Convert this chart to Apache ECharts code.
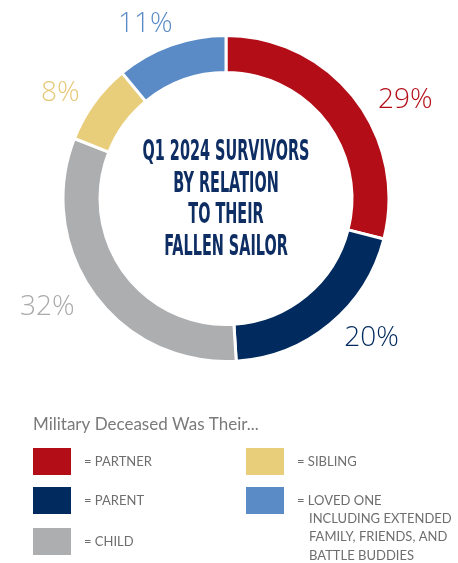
<!DOCTYPE html>
<html><head><meta charset="utf-8">
<script src="https://cdn.jsdelivr.net/npm/echarts@6/dist/echarts.min.js"></script>
<style>html,body{margin:0;padding:0;background:#fff}#c{width:458px;height:563px}</style>
</head><body><div id="c"></div>
<script>
const categories = ['Partner', 'Parent', 'Child', 'Sibling', 'Loved One'];
const values = [29, 20, 32, 8, 11];
const sliceColors = ['#b30e18', '#012a5e', '#adaeb0', '#e8cd7a', '#5b8bc7'];
const labelColors = ['#b30e18', '#012a5e', '#a9aaac', '#e6c978', '#5b8bc7'];
const titleLines = ['Q1 2024 SURVIVORS', 'BY RELATION', 'TO THEIR', 'FALLEN SAILOR'];
const legendHeading = 'Military Deceased Was Their...';
const legendLabels = ['= PARTNER', '= PARENT', '= CHILD', '= SIBLING', '= LOVED ONE'];
const legendExtra = ['INCLUDING EXTENDED', 'FAMILY, FRIENDS, AND', 'BATTLE BUDDIES'];
const labelNudge = [[4, 12], [-2, 0], [0, 2], [5, 1], [13, -4]];

const titleFont = 'bold 28px "DejaVu Sans"';
const ctx = document.createElement('canvas').getContext('2d');
ctx.font = titleFont;
const titleScale = 167 / ctx.measureText(titleLines[0]).width;

const chart = echarts.init(document.getElementById('c'));
const graphics = [];
titleLines.forEach((t, i) => {
  graphics.push({
    type: 'text', x: 226, y: 153 + i * 31.6, scaleX: titleScale, originX: 0,
    style: { text: t, fill: '#0d2d63', font: titleFont, align: 'center', verticalAlign: 'middle' }
  });
});
graphics.push({ type: 'text', x: 33, y: 425, style: { text: legendHeading, fill: '#7a7a7a', font: '17px Lato', verticalAlign: 'middle' } });
const colX = [33, 246], rowY = [448, 487, 528];
categories.forEach((c, i) => {
  const col = i < 3 ? 0 : 1, row = i < 3 ? i : i - 3;
  const x = colX[col], y = rowY[row];
  graphics.push({ type: 'rect', shape: { x: x, y: y, width: 38, height: 27 }, style: { fill: sliceColors[i] } });
  graphics.push({ type: 'text', x: x + 51, y: y + 13.5, style: { text: legendLabels[i], fill: '#6e6e6e', font: '13px Lato', verticalAlign: 'middle' } });
  if (i === 4) {
    legendExtra.forEach((t, j) => {
      graphics.push({ type: 'text', x: x + 63, y: y + 31.5 + j * 18.7, style: { text: t, fill: '#6e6e6e', font: '13px Lato', verticalAlign: 'middle' } });
    });
  }
});

chart.setOption({
  animation: false,
  graphic: graphics,
  series: [{
    type: 'pie',
    center: [226, 198.5],
    radius: [126, 163],
    startAngle: 90,
    clockwise: true,
    itemStyle: { borderColor: '#fff', borderWidth: 3 },
    label: {
      show: true, position: 'outside',
      formatter: '{c}%',
      fontFamily: 'Open Sans', fontWeight: 300, fontSize: 28
    },
    labelLine: { show: false, length: 18, length2: 0 },
    labelLayout: (p) => ({ dx: labelNudge[p.dataIndex][0], dy: labelNudge[p.dataIndex][1] }),
    emphasis: { disabled: true },
    data: categories.map((c, i) => ({ name: c, value: values[i], itemStyle: { color: sliceColors[i] }, label: { color: labelColors[i] } }))
  }]
});
</script></body></html>
